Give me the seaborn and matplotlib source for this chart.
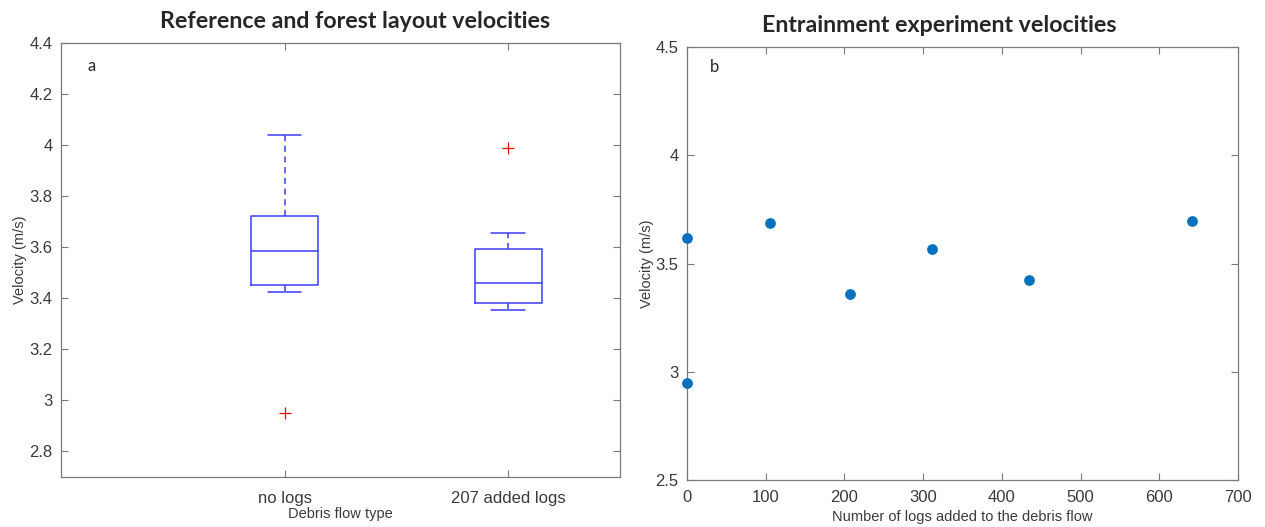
import pandas as pd
import matplotlib.pyplot as plt
import numpy as np
import seaborn as sns

# velocities (m/s)
no_logs = [2.952, 3.424, 3.451, 3.52, 3.587, 3.65, 3.722, 3.90, 4.04]
added_logs = [3.356, 3.37, 3.382, 3.42, 3.461, 3.53, 3.592, 3.655, 3.987]
flow_types = ["no logs", "207 added logs"]

# entrainment experiment
n_logs = [0, 0, 105, 207, 311, 435, 642]
velocity = [3.619, 2.950, 3.686, 3.357, 3.568, 3.424, 3.698]

box_df = pd.DataFrame({
    "type": [flow_types[0]] * len(no_logs) + [flow_types[1]] * len(added_logs),
    "velocity": no_logs + added_logs,
})
ent_df = pd.DataFrame({"logs": n_logs, "velocity": velocity})

sns.set_style("white")
plt.rcParams["font.family"] = ["Liberation Sans", "DejaVu Sans"]

tick_col = "#3a3a3a"
spine_col = "#7a7a7a"

fig = plt.figure(figsize=(12.65, 5.27), dpi=100)
ax1 = fig.add_axes([0.0482, 0.0949, 0.4419, 0.8235])
ax2 = fig.add_axes([0.5431, 0.0892, 0.4356, 0.8216])

# a) box plot, MATLAB look
sns.boxplot(data=box_df, x="type", y="velocity", order=flow_types, ax=ax1,
            fill=False, color="#3c3cff", width=0.3, linewidth=1.1,
            whis=1.5, capwidths=0.15,
            whiskerprops=dict(linestyle=(0, (4, 3))),
            flierprops=dict(marker="+", markeredgecolor="red", markersize=8,
                            markeredgewidth=0.9))
ax1.set_xlim(-1, 1.5)
ax1.set_ylim(2.7, 4.4)
ax1.set_yticks(np.arange(2.8, 4.41, 0.2))
ax1.set_yticklabels(["2.8", "3", "3.2", "3.4", "3.6", "3.8", "4", "4.2", "4.4"])
ax1.set_xlabel("Debris flow type", fontsize=10.5, color=tick_col, labelpad=1)
ax1.set_ylabel("Velocity (m/s)", fontsize=10.5, color=tick_col, labelpad=2)
ax1.set_title("Reference and forest layout velocities", family=["Lato", "DejaVu Sans"],
              fontweight="bold", fontsize=16.7, x=0.526, pad=11)
ax1.text(0.048, 0.947, "a", transform=ax1.transAxes, family=["Lato", "DejaVu Sans"],
         fontsize=12, va="center", ha="left")

# b) scatter
sns.scatterplot(data=ent_df, x="logs", y="velocity", ax=ax2, color="#0072BD",
                s=60, linewidth=0, clip_on=False, zorder=3)
ax2.set_xlim(0, 700)
ax2.set_ylim(2.5, 4.5)
ax2.set_xticks(np.arange(0, 701, 100))
ax2.set_yticks([2.5, 3, 3.5, 4, 4.5])
ax2.set_yticklabels(["2.5", "3", "3.5", "4", "4.5"])
ax2.set_xlabel("Number of logs added to the debris flow", fontsize=10.5,
               color=tick_col, labelpad=4)
ax2.set_ylabel("Velocity (m/s)", fontsize=10.5, color=tick_col, labelpad=1)
ax2.set_title("Entrainment experiment velocities", family=["Lato", "DejaVu Sans"],
              fontweight="bold", fontsize=16.7, x=0.457, pad=11)
ax2.text(0.042, 0.954, "b", transform=ax2.transAxes, family=["Lato", "DejaVu Sans"],
         fontsize=12, va="center", ha="left")

for ax in (ax1, ax2):
    ax.tick_params(direction="in", top=True, right=True, bottom=True, left=True,
                   length=5, width=0.8, color=spine_col, labelcolor=tick_col,
                   labelsize=12, pad=6)
    for sp in ax.spines.values():
        sp.set_color(spine_col)
        sp.set_linewidth(0.9)
        sp.set_visible(True)
ax1.tick_params(axis="x", pad=10)
ax2.tick_params(axis="x", pad=7)

fig.savefig("out.png", dpi=100)
